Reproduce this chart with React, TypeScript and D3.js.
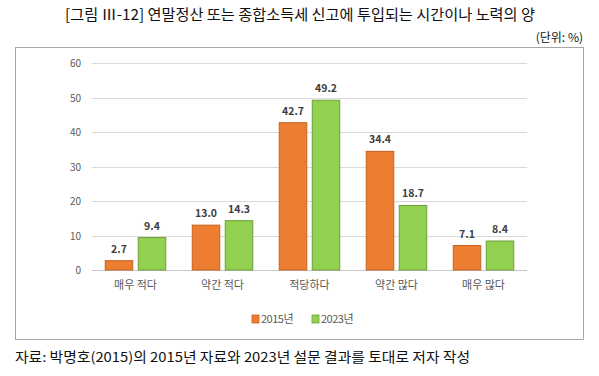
import React from "react";
import * as d3 from "d3";

const categories = ["매우 적다", "약간 적다", "적당하다", "약간 많다", "매우 많다"];
const series2015 = [2.7, 13.0, 42.7, 34.4, 7.1];
const series2023 = [9.4, 14.3, 49.2, 18.7, 8.4];
const seriesNames = ["2015년", "2023년"];
const yTicks = [0, 10, 20, 30, 40, 50, 60];

const W = 599;
const H = 376;
const font = "'Noto Sans CJK KR', 'Noto Sans', sans-serif";
const fills = ["#ED7D31", "#92D050"];
const strokes = ["#C8601E", "#6E9E3A"];

export default function App() {
  const plotLeft = 92;
  const plotRight = 527;
  const plotTop = 63;
  const plotBottom = 270;
  const x = d3.scaleBand<string>().domain(categories).range([plotLeft, plotRight]).paddingInner(0).paddingOuter(0);
  const y = d3.scaleLinear().domain([0, 60]).range([plotBottom, plotTop]);
  const barW = 27.5;
  const gap = 5.5;
  const data = [series2015, series2023];

  return (
    <svg width={W} height={H} style={{ position: "absolute", left: 0, top: 0, background: "#fff" }} fontFamily={font}>
      <text x={300} y={20} textAnchor="middle" fontSize={15} fill="#111" textLength={470} lengthAdjust="spacingAndGlyphs">
        [그림 Ⅲ-12] 연말정산 또는 종합소득세 신고에 투입되는 시간이나 노력의 양
      </text>
      <text x={583} y={42} textAnchor="end" fontSize={12} fill="#111">(단위: %)</text>
      <rect x={15.5} y={47.5} width={568} height={292} fill="#fff" stroke="#A6A6A6" strokeWidth={1} />
      {yTicks.map((t) => (
        <g key={t}>
          <line x1={plotLeft} x2={plotRight} y1={Math.round(y(t)) + 0.5} y2={Math.round(y(t)) + 0.5} stroke={t === 0 ? "#C8C8C8" : "#DADADA"} strokeWidth={1} />
          <text x={81} y={y(t) + 4} textAnchor="end" fontSize={10} fill="#595959">{t}</text>
        </g>
      ))}
      {categories.map((c, i) => {
        const cx = (x(c) as number) + x.bandwidth() / 2;
        return (
          <g key={c}>
            {data.map((s, si) => {
              const bx = si === 0 ? cx - gap / 2 - barW : cx + gap / 2;
              const v = s[i];
              return (
                <g key={si}>
                  <rect x={bx} y={y(v)} width={barW} height={plotBottom - y(v)} fill={fills[si]} stroke={strokes[si]} strokeWidth={1} />
                  <text x={bx + barW / 2} y={y(v) - 8} textAnchor="middle" fontSize={10.5} fontWeight="bold" fill="#404040">{v.toFixed(1)}</text>
                </g>
              );
            })}
            <text x={cx} y={289} textAnchor="middle" fontSize={11} fill="#595959">{c}</text>
          </g>
        );
      })}
      {seriesNames.map((n, i) => {
        const lx = 252 + i * 60;
        return (
          <g key={n}>
            <rect x={lx} y={315} width={7} height={8} fill={fills[i]} stroke={strokes[i]} strokeWidth={0.8} />
            <text x={lx + 9} y={323} fontSize={11} fill="#595959" letterSpacing={-0.5}>{n}</text>
          </g>
        );
      })}
      <text x={15} y={362} fontSize={13.5} fill="#111" textLength={455} lengthAdjust="spacingAndGlyphs">
        자료: 박명호(2015)의 2015년 자료와 2023년 설문 결과를 토대로 저자 작성
      </text>
    </svg>
  );
}
